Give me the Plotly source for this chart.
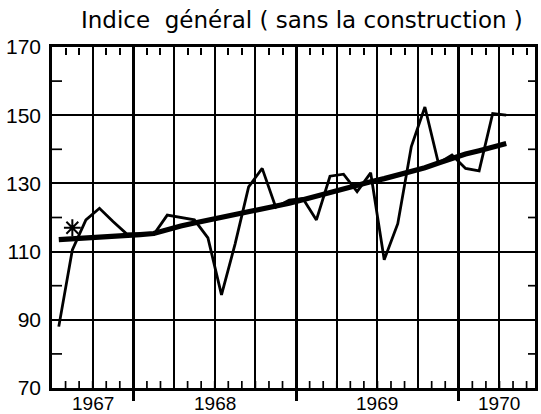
import plotly.graph_objects as go

# ---- data ----
months = ["1967-07", "1967-08", "1967-09", "1967-10", "1967-11", "1967-12",
          "1968-01", "1968-02", "1968-03", "1968-04", "1968-05", "1968-06",
          "1968-07", "1968-08", "1968-09", "1968-10", "1968-11", "1968-12",
          "1969-01", "1969-02", "1969-03", "1969-04", "1969-05", "1969-06",
          "1969-07", "1969-08", "1969-09", "1969-10", "1969-11", "1969-12",
          "1970-01", "1970-02", "1970-03", "1970-04"]
index_values = [88.0, 110.5, 119.3, 122.7, 118.8, 115.2,
                115.2, 115.0, 120.7, 120.0, 119.3, 114.0,
                97.3, 112.2, 129.0, 134.4, 123.0, 125.1,
                125.6, 119.3, 132.1, 132.7, 127.6, 133.1,
                107.6, 118.2, 140.8, 152.4, 135.9, 138.3,
                134.4, 133.7, 150.5, 150.0]
trend_values = [113.5, 113.7, 113.9, 114.1, 114.4, 114.7,
                115.0, 115.3, 116.5, 117.5, 118.4, 119.2,
                120.0, 120.8, 121.6, 122.4, 123.3, 124.2,
                125.2, 126.3, 127.4, 128.5, 129.5, 130.5,
                131.4, 132.4, 133.4, 134.6, 136.0, 137.5,
                138.6, 139.6, 140.6, 141.7]
star_month = ["1967-08"]
star_value = [117.0]

y_labels = [70, 90, 110, 130, 150, 170]
y_minor = [80, 100, 120, 140, 160]
year_labels = ["1967", "1968", "1969", "1970"]
year_label_months = ["1967-10", "1968-07", "1969-07", "1970-04"]
year_starts = ["1968-01", "1969-01", "1970-01"]
title_text = "Indice  général ( sans la construction )"


def mpos(s, mid=True):
    y, m = map(int, s.split("-"))
    return (y - 1967) * 12 + (m - 1) + (0.5 if mid else 0.0)


x_vals = [mpos(s) for s in months]
x_star = [mpos(s) for s in star_month]
x_range = [6, 41.62]
y_range = [70, 170]
quarter_ticks = [mpos(f"{y}-{m:02d}", mid=False)
                 for y in (1967, 1968, 1969, 1970) for m in (1, 4, 7, 10)]
quarter_ticks = [q for q in quarter_ticks if x_range[0] < q < x_range[1]]
month_ticks = [mpos(f"{y}-{m:02d}", mid=False)
               for y in (1967, 1968, 1969, 1970) for m in range(1, 13)]
month_ticks = [q for q in month_ticks if x_range[0] < q < x_range[1]]
year_pos = [mpos(s, mid=False) for s in year_starts]

fig = go.Figure()
# empty helper traces so that the overlay axes (ticks / grids) are drawn
for xa, ya in (("x2", "y"), ("x3", "y"), ("x4", "y"), ("x", "y2")):
    fig.add_trace(go.Scatter(x=[None], y=[None], xaxis=xa, yaxis=ya,
                             mode="lines", showlegend=False,
                             hoverinfo="skip"))

fig.add_trace(go.Scatter(x=x_vals, y=index_values, mode="lines",
                         line=dict(color="black", width=2.8),
                         showlegend=False))
fig.add_trace(go.Scatter(x=x_vals, y=trend_values, mode="lines",
                         line=dict(color="black", width=5.2),
                         showlegend=False))
fig.add_trace(go.Scatter(x=x_star, y=star_value, mode="markers",
                         marker=dict(symbol="asterisk-open", size=14,
                                     color="black",
                                     line=dict(color="black", width=2)),
                         showlegend=False))

# short inward tick marks on the bottom, left and right borders
tick_line = dict(color="black", width=1.7)
shapes = []
for m in month_ticks:
    shapes.append(dict(type="line", xref="x", yref="y domain",
                       ysizemode="pixel", yanchor=0, y0=0, y1=7,
                       x0=m, x1=m, line=tick_line, layer="above"))
for v in y_minor:
    shapes.append(dict(type="line", yref="y", xref="x domain",
                       xsizemode="pixel", xanchor=0, x0=0, x1=10,
                       y0=v, y1=v, line=tick_line, layer="above"))
    shapes.append(dict(type="line", yref="y", xref="x domain",
                       xsizemode="pixel", xanchor=1, x0=-7, x1=0,
                       y0=v, y1=v, line=tick_line, layer="above"))

annotations = [dict(text=title_text, x=0.518, y=1.0, xref="paper",
                    yref="paper", yanchor="bottom", yshift=12,
                    showarrow=False,
                    font=dict(size=23, family="DejaVu Sans", color="black"))]
for s, t in zip(year_label_months, year_labels):
    annotations.append(dict(text=t, x=mpos(s, mid=False), xref="x",
                            y=0, yref="paper", yanchor="middle", yshift=-15,
                            showarrow=False,
                            font=dict(size=19, family="Liberation Sans",
                                      color="black")))

fig.update_layout(
    width=541, height=414,
    margin=dict(l=52, r=6, t=47, b=26, autoexpand=False),
    paper_bgcolor="white", plot_bgcolor="white",
    font=dict(family="Liberation Sans", color="black"),
    # frame
    xaxis=dict(range=x_range, showticklabels=False, ticks="",
               showgrid=False, zeroline=False, showline=True,
               linecolor="black", linewidth=2.8, mirror=True,
               automargin=False),
    # quarter grid lines
    xaxis2=dict(range=x_range, overlaying="x", anchor="y", side="bottom",
                tickmode="array", tickvals=quarter_ticks, ticks="",
                showticklabels=False, showgrid=True, gridcolor="black",
                gridwidth=1.6, zeroline=False, showline=False,
                automargin=False),
    # year boundaries: thick grid lines with outside ticks
    xaxis3=dict(range=x_range, overlaying="x", anchor="y", side="bottom",
                tickmode="array", tickvals=year_pos, ticks="outside",
                ticklen=12, tickwidth=2.6, tickcolor="black",
                showticklabels=False, showgrid=True, gridcolor="black",
                gridwidth=2.6, zeroline=False, showline=False,
                automargin=False),
    # monthly ticks pointing down from the top border
    xaxis4=dict(range=x_range, overlaying="x", anchor="free", position=1,
                side="bottom", tickmode="array", tickvals=month_ticks,
                ticks="outside", ticklen=7, tickwidth=1.6,
                tickcolor="black", showticklabels=False, showgrid=False,
                zeroline=False, showline=False, automargin=False),
    yaxis=dict(range=y_range, showticklabels=False, ticks="",
               showgrid=False, zeroline=False, showline=True,
               linecolor="black", linewidth=2.8, mirror=True,
               automargin=False),
    # labelled y axis with horizontal grid
    yaxis2=dict(range=y_range, overlaying="y", anchor="x", side="left",
                tickmode="array", tickvals=y_labels, ticks="",
                showgrid=True, gridcolor="black", gridwidth=1.5,
                zeroline=False, showline=False, automargin=False,
                tickfont=dict(size=21, family="Liberation Sans"),
                ticklabelstandoff=10),
    shapes=shapes,
    annotations=annotations,
)

fig.write_html("out.html",
               config={"displayModeBar": False},
               post_script="document.body.style.margin='0px';")
